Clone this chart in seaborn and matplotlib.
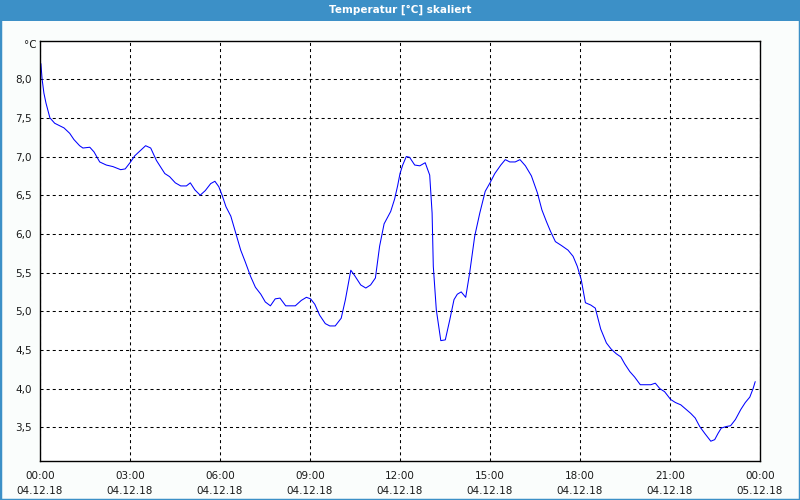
import matplotlib
matplotlib.use("Agg")
import matplotlib.pyplot as plt
from matplotlib.patches import Rectangle
import seaborn as sns
import pandas as pd

# --- data (hours since 04.12.18 00:00, temperature in °C) ---
hours = [0.0, 0.03, 0.07, 0.13, 0.2, 0.33, 0.49, 0.8, 0.99, 1.13, 1.32, 1.43, 1.66, 1.8, 1.99,
         2.21, 2.43, 2.69, 2.84, 3.0, 3.16, 3.38, 3.52, 3.69, 3.88, 4.16, 4.32, 4.51, 4.69,
         4.88, 5.01, 5.16, 5.34, 5.51, 5.69, 5.83, 5.96, 6.07, 6.2, 6.36, 6.51, 6.69, 6.84,
         7.02, 7.18, 7.36, 7.51, 7.68, 7.84, 8.0, 8.19, 8.51, 8.71, 8.88, 9.02, 9.16, 9.32,
         9.51, 9.66, 9.84, 10.04, 10.18, 10.36, 10.49, 10.69, 10.86, 11.02, 11.18, 11.32,
         11.47, 11.69, 11.82, 11.92, 12.0, 12.09, 12.21, 12.32, 12.49, 12.66, 12.84, 12.99,
         13.07, 13.11, 13.21, 13.36, 13.51, 13.66, 13.8, 13.91, 14.04, 14.19, 14.32, 14.49,
         14.66, 14.84, 15.0, 15.16, 15.36, 15.51, 15.66, 15.84, 16.0, 16.18, 16.38, 16.58,
         16.73, 16.88, 17.02, 17.18, 17.38, 17.6, 17.77, 17.91, 18.04, 18.18, 18.36, 18.51,
         18.69, 18.88, 19.04, 19.21, 19.36, 19.49, 19.66, 19.82, 20.01, 20.13, 20.36, 20.51,
         20.66, 20.82, 21.02, 21.18, 21.36, 21.51, 21.69, 21.84, 21.99, 22.16, 22.36, 22.49,
         22.6, 22.71, 22.88, 23.02, 23.18, 23.36, 23.51, 23.66, 23.77, 23.84]
temps = [8.2, 8.2, 8.0, 7.82, 7.69, 7.5, 7.43, 7.37, 7.30, 7.22, 7.14, 7.11, 7.12, 7.06, 6.93,
         6.89, 6.87, 6.83, 6.84, 6.92, 7.01, 7.09, 7.14, 7.11, 6.95, 6.78, 6.74, 6.66, 6.62,
         6.62, 6.66, 6.57, 6.50, 6.56, 6.65, 6.68, 6.61, 6.50, 6.35, 6.23, 6.03, 5.79, 5.64,
         5.45, 5.31, 5.22, 5.12, 5.07, 5.16, 5.17, 5.07, 5.07, 5.14, 5.18, 5.16, 5.09, 4.95,
         4.84, 4.81, 4.81, 4.91, 5.15, 5.53, 5.46, 5.34, 5.30, 5.34, 5.43, 5.84,
         6.13, 6.29, 6.45, 6.62, 6.78, 6.89, 7.0, 6.99, 6.89, 6.88, 6.92, 6.76,
         6.27, 5.58, 5.02, 4.62, 4.63, 4.89, 5.15, 5.22, 5.25, 5.18, 5.49, 5.97,
         6.27, 6.55, 6.66, 6.78, 6.89, 6.96, 6.93, 6.93, 6.96, 6.88, 6.75, 6.53,
         6.31, 6.16, 6.03, 5.90, 5.85, 5.79, 5.71, 5.58, 5.41, 5.11, 5.08, 5.04,
         4.77, 4.59, 4.51, 4.45, 4.41, 4.32, 4.22, 4.15, 4.05, 4.05, 4.05, 4.07,
         4.0, 3.96, 3.86, 3.82, 3.79, 3.74, 3.68, 3.62, 3.51, 3.42, 3.32, 3.34,
         3.42, 3.49, 3.51, 3.52, 3.60, 3.73, 3.82, 3.89, 4.0, 4.09]

x_ticks = [0, 3, 6, 9, 12, 15, 18, 21, 24]
x_labels = ["00:00\n04.12.18", "03:00\n04.12.18", "06:00\n04.12.18", "09:00\n04.12.18",
            "12:00\n04.12.18", "15:00\n04.12.18", "18:00\n04.12.18", "21:00\n04.12.18",
            "00:00\n05.12.18"]
y_ticks = [3.5, 4.0, 4.5, 5.0, 5.5, 6.0, 6.5, 7.0, 7.5, 8.0]
y_labels = ["3,5", "4,0", "4,5", "5,0", "5,5", "6,0", "6,5", "7,0", "7,5", "8,0"]
title = "Temperatur [°C] skaliert"

df = pd.DataFrame({"Stunde": hours, "Temperatur": temps})

sns.set_style("white")
plt.rcParams["font.family"] = ["DejaVu Sans"]
plt.rcParams["lines.scale_dashes"] = False

fig = plt.figure(figsize=(8, 5), dpi=100)
fig.patch.set_facecolor("#FAFDFC")

# frame border and title bar
BLUE = "#3C90C7"
fig.patches.append(Rectangle((0, 0), 1, 1, transform=fig.transFigure, fill=False,
                             edgecolor=BLUE, linewidth=2.5, zorder=0))
fig.patches.append(Rectangle((0, 1 - 20.5 / 500), 1, 20.5 / 500, transform=fig.transFigure,
                             facecolor=BLUE, edgecolor="none", zorder=1))
fig.text(0.5, 1 - 10 / 500, title, color="white", fontsize=7.5, fontweight="bold",
         ha="center", va="center")

ax = fig.add_axes([40 / 800, 1 - 461 / 500, 720 / 800, (461 - 40.5) / 500])
ax.set_facecolor("white")

sns.lineplot(data=df, x="Stunde", y="Temperatur", ax=ax, color="#0000FF", linewidth=0.75)

ax.set_xlim(0, 24)
ax.set_ylim(3.064, 8.5)

ax.set_xticks(x_ticks)
ax.set_xticklabels(x_labels, fontsize=7.5, color="#1A1A1A", linespacing=1.7)
ax.set_xticks(list(range(25)), minor=True)
ax.set_yticks(y_ticks)
ax.set_yticklabels(y_labels, fontsize=7.5, color="#1A1A1A")

ax.tick_params(axis="x", which="both", direction="out", length=2, width=0.8, color="black", pad=5)
ax.tick_params(axis="y", length=0, pad=6)

ax.grid(True, which="major", color="black", linestyle=(0, (2.2, 2.2)), linewidth=0.75)
for s in ax.spines.values():
    s.set_visible(True)
    s.set_color("black")
    s.set_linewidth(1.0)

ax.set_xlabel("")
ax.set_ylabel("")
fig.text(37 / 800, 1 - 45 / 500, "°C", fontsize=7.5, color="#1A1A1A", ha="right", va="center")

fig.savefig("out.png", dpi=100, facecolor=fig.get_facecolor())
